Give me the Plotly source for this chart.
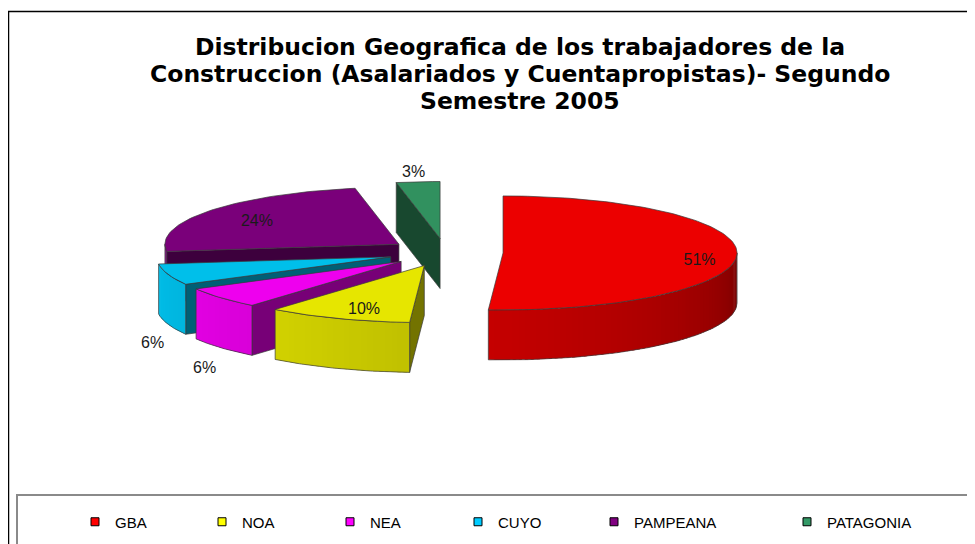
import numpy as np
import plotly.graph_objects as go

# ---------------- data ----------------
regions = ["GBA", "NOA", "NEA", "CUYO", "PAMPEANA", "PATAGONIA"]
shares = [51, 10, 6, 6, 24, 3]
pct_labels = ["51%", "10%", "6%", "6%", "24%", "3%"]
title_lines = [
    "Distribucion Geografica de los trabajadores de la",
    "Construccion (Asalariados y Cuentapropistas)- Segundo",
    "Semestre 2005",
]

# ---------------- style ----------------
legend_colors = ["#FF0000", "#FFFF00", "#FF00FF", "#00CCFF", "#800080", "#339966"]
top_colors = ["#EC0000", "#E6E600", "#EE00EE", "#00BFEA", "#7A007A", "#31915F"]

PAGE_W, PAGE_H = 975, 544
OFF = 8                      # default page margin around the plot div
W, HGT = PAGE_W - OFF, PAGE_H - OFF
CX, CY = 445.5, 252.5        # pie centre (page pixel space)
RX, RY = 234.0, 57.0         # ellipse radii of the tilted pie
DEPTH = 50.0                 # thickness of the 3D pie
EXPLODE = 0.246              # explosion distance (fraction of radius)
LABEL_R = [0.84, 0.70, 1.09, 1.07, 0.75, 1.20]
LABEL_DY = [7, 7, 2, 2, 3, 3]
EDGE = "#3a3a3a"


def px_x(p):
    return (p - OFF) / W


def px_y(p):
    return 1 - (p - OFF) / HGT


def hex2rgb(h):
    h = h.lstrip("#")
    return tuple(int(h[k:k + 2], 16) for k in (0, 2, 4))


def shade(h, f):
    r, g, b = hex2rgb(h)
    return "rgb(%d,%d,%d)" % (min(255, r * f), min(255, g * f), min(255, b * f))


def rim(cx, cy, a, r=1.0):
    t = np.radians(a)
    return cx + RX * r * np.cos(t), cy - RY * r * np.sin(t)


fig = go.Figure()


def add_poly(xs, ys, fill, line_color, lw):
    xs = list(xs) + [xs[0]]
    ys = list(ys) + [ys[0]]
    line = dict(color=line_color, width=lw) if lw > 0 else dict(width=0)
    fig.add_trace(go.Scatter(
        x=xs, y=ys, mode="lines", fill="toself", fillcolor=fill,
        line=line, hoverinfo="skip", showlegend=False))


# slice geometry from the shares (start at 12 o'clock, clockwise)
total = float(sum(shares))
slices = []
cum = 0.0
for i, v in enumerate(shares):
    hi = 90.0 - cum / total * 360.0
    lo = hi - v / total * 360.0
    cum += v
    mid = (lo + hi) / 2.0
    cx, cy = rim(CX, CY, mid, EXPLODE)
    slices.append(dict(i=i, lo=lo, hi=hi, mid=mid, cx=cx, cy=cy))

# painter's order: back slices first
for s in sorted(slices, key=lambda d: d["cy"]):
    i, lo, hi, cx, cy = s["i"], s["lo"], s["hi"], s["cx"], s["cy"]
    col = top_colors[i]

    # radial cut faces
    for a, normal in ((hi, hi + 90.0), (lo, lo - 90.0)):
        if np.sin(np.radians(normal)) < -0.02:
            rx_, ry_ = rim(cx, cy, a)
            add_poly([cx, rx_, rx_, cx], [cy, ry_, ry_ + DEPTH, cy + DEPTH],
                     shade(col, 0.5), EDGE, 0.7)

    # outer (front) wall with a shading gradient
    for k in (0, -1):
        a0 = max(lo, -180.0 + 360.0 * k)
        a1 = min(hi, 0.0 + 360.0 * k)
        if a1 <= a0:
            continue
        n = max(2, int(np.ceil((a1 - a0) / 1.5)))
        angs = np.linspace(a0, a1, n + 1)
        for j, (a, b) in enumerate(zip(angs[:-1], angs[1:])):
            m = (a + b) / 2.0
            theta = ((m + 180.0) % 360.0) - 180.0
            t = min(1.0, max(0.0, -theta / 180.0))
            f = 0.42 + 0.58 * t ** 0.5
            b2 = min(a1, b + 0.8)
            x1, y1 = rim(cx, cy, a)
            x2, y2 = rim(cx, cy, b2)
            add_poly([x1, x2, x2, x1], [y1, y2, y2 + DEPTH, y1 + DEPTH],
                     shade(col, f), None, 0)
        # outline of the wall
        arc = np.linspace(a0, a1, 60)
        tx, ty = rim(cx, cy, arc)
        ox = list(tx) + list(tx[::-1]) + [tx[0]]
        oy = list(ty) + list(ty[::-1] + DEPTH) + [ty[0]]
        fig.add_trace(go.Scatter(x=ox, y=oy, mode="lines",
                                 line=dict(color=EDGE, width=0.7),
                                 hoverinfo="skip", showlegend=False))

    # top face
    arc = np.linspace(lo, hi, max(4, int((hi - lo) / 1.5)))
    tx, ty = rim(cx, cy, arc)
    add_poly([cx] + list(tx), [cy] + list(ty), col, EDGE, 0.7)

# percentage labels
lx, ly = [], []
for s in slices:
    r = LABEL_R[s["i"]]
    x, y = rim(s["cx"], s["cy"], s["mid"], r)
    if r > 1 and np.sin(np.radians(s["mid"])) < 0:
        y += DEPTH + 16
    lx.append(x)
    ly.append(y + LABEL_DY[s["i"]])
fig.add_trace(go.Scatter(
    x=lx, y=ly, mode="text", text=pct_labels,
    textfont=dict(family="Liberation Sans, Arial, sans-serif", size=16, color="#1a1a1a"),
    hoverinfo="skip", showlegend=False))

# legend entries (one legend per entry to reproduce Excel spacing)
legend_text_x = [109, 236, 364, 492, 628, 821]
layout_legends = {}
for i, name in enumerate(regions):
    key = "legend" if i == 0 else "legend%d" % (i + 1)
    fig.add_trace(go.Scatter(
        x=[None], y=[None], mode="markers", name=name,
        marker=dict(symbol="square", size=8, color=legend_colors[i],
                    line=dict(color="black", width=1)),
        legend=key, showlegend=True))
    layout_legends[key] = dict(
        x=px_x(legend_text_x[i] - 34), y=px_y(522), xanchor="left", yanchor="middle",
        orientation="h", bgcolor="rgba(0,0,0,0)", borderwidth=0,
        font=dict(family="Liberation Sans, Arial, sans-serif", size=15, color="#000000"))

# title (one annotation per line for exact spacing)
title_y = [47, 74, 101]
annotations = [
    dict(text=line, x=520, y=yy, xref="x", yref="y", xanchor="center", yanchor="middle",
         showarrow=False,
         font=dict(family="DejaVu Sans, Verdana, sans-serif", size=23.5,
                   color="black", weight="bold"))
    for line, yy in zip(title_lines, title_y)
]

fig.update_layout(
    width=W, height=HGT,
    margin=dict(l=0, r=0, t=0, b=0),
    paper_bgcolor="white", plot_bgcolor="white",
    xaxis=dict(range=[OFF, PAGE_W], visible=False, fixedrange=True),
    yaxis=dict(range=[PAGE_H, OFF], visible=False, fixedrange=True),
    annotations=annotations,
    shapes=[
        dict(type="rect", xref="x", yref="y", x0=8.5, y0=11.5, x1=PAGE_W + 20, y1=PAGE_H + 20,
             line=dict(color="black", width=1.5), layer="below"),
        dict(type="rect", xref="x", yref="y", x0=17, y0=495, x1=PAGE_W + 20, y1=PAGE_H + 20,
             line=dict(color="#8a8a8a", width=2), layer="below"),
    ],
    showlegend=True,
    **layout_legends,
)

fig.write_html("out.html")
